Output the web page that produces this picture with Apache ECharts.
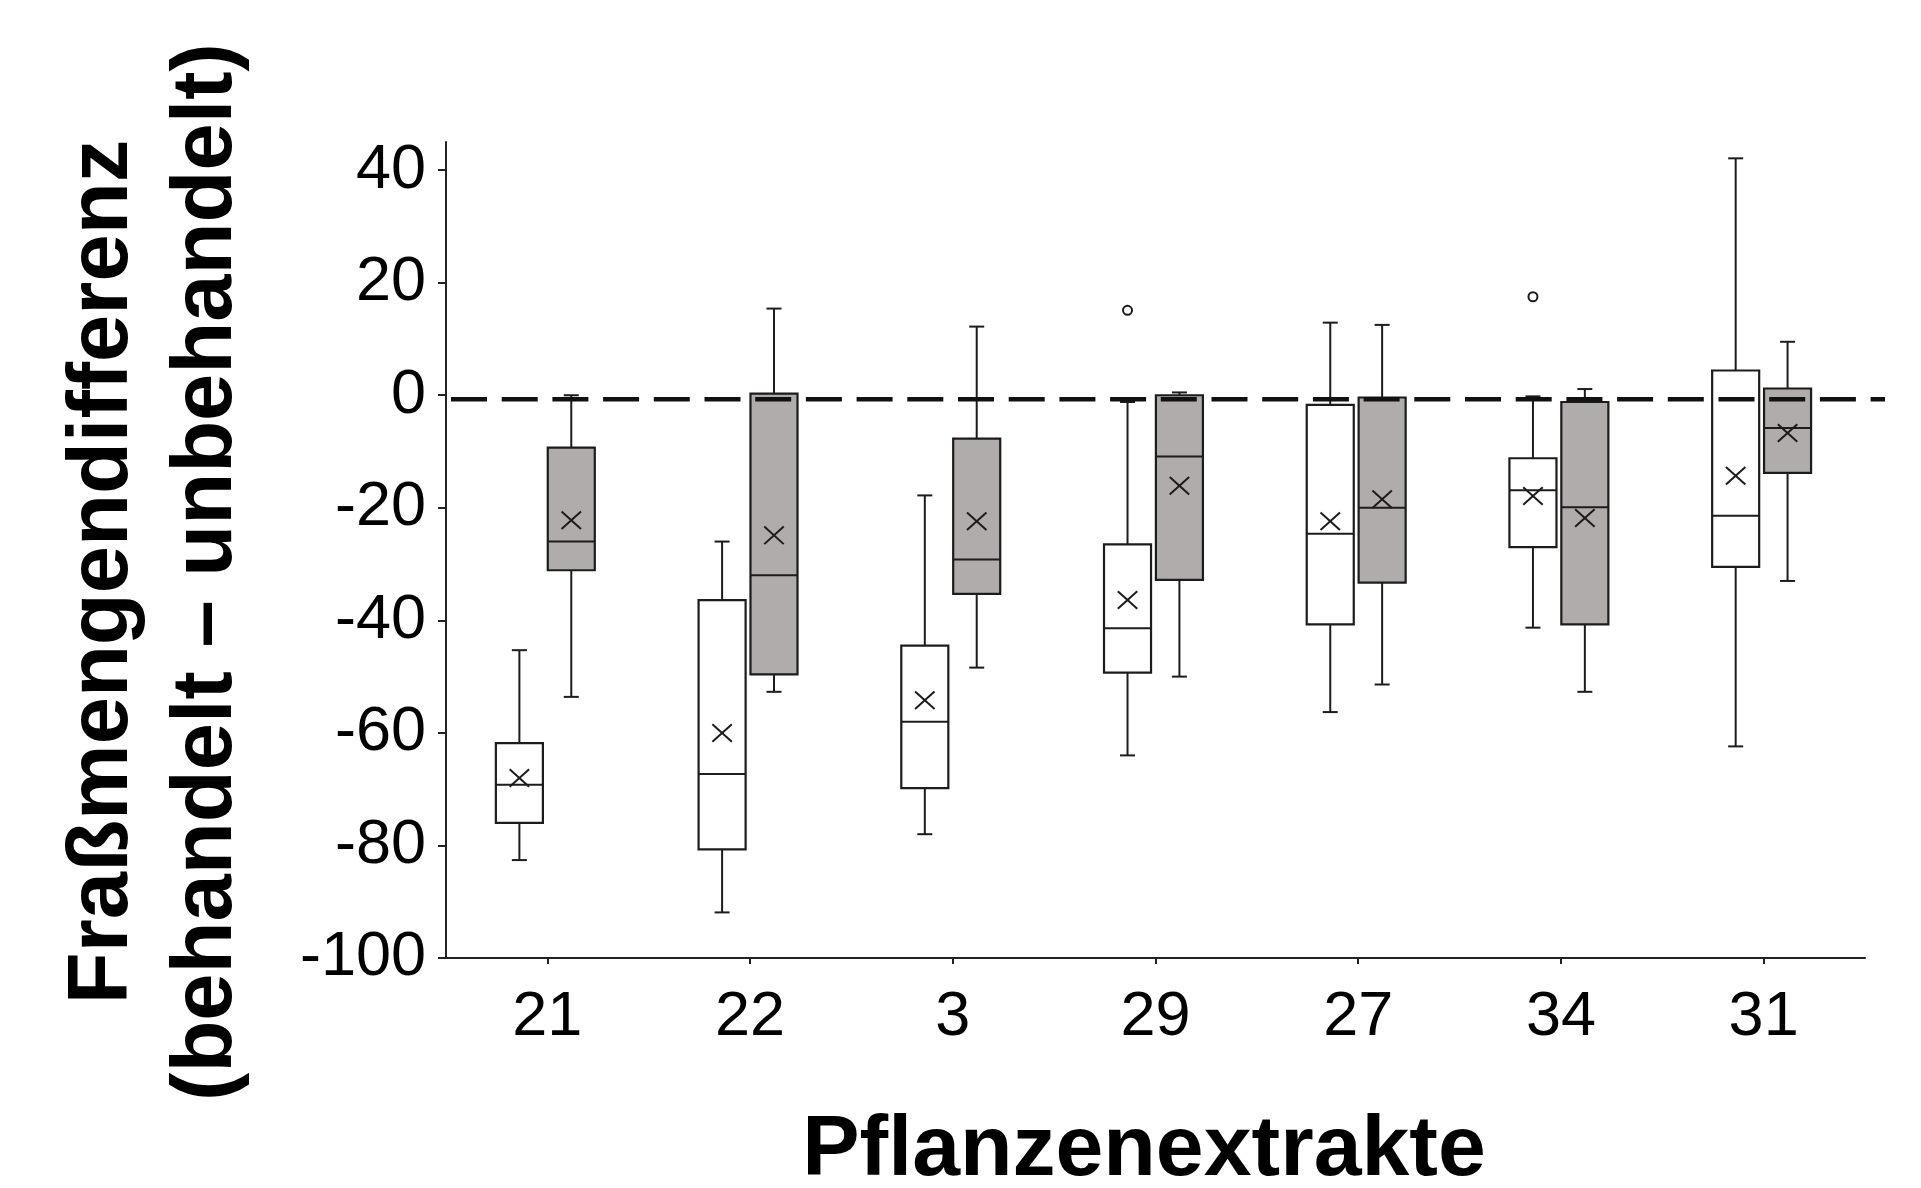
<!DOCTYPE html>
<html><head><meta charset="utf-8">
<script src="https://cdn.jsdelivr.net/npm/echarts@6/dist/echarts.min.js"></script>
<style>html,body{margin:0;padding:0;background:#fff}#chart{width:1921px;height:1188px}</style>
</head><body><div id="chart"></div>
<script>
// ---- data ----
const categories = ['21', '22', '3', '29', '27', '34', '31'];
const yTicks = [-100, -80, -60, -40, -20, 0, 20, 40];
const referenceValue = -0.7;

// open (white) boxes
const whiteMin    = [-82.6, -91.9, -78.0, -64.0, -56.3, -41.3, -62.4];
const whiteQ1     = [-76.0, -80.7, -69.8, -49.3, -40.7, -27.0, -30.5];
const whiteMedian = [-69.2, -67.3, -58.0, -41.4, -24.6, -16.9, -21.4];
const whiteQ3     = [-61.8, -36.4, -44.5, -26.5,  -1.7, -11.2,   4.4];
const whiteMax    = [-45.3, -26.0, -17.8,  -1.2,  12.9,  -0.2,  42.1];
const whiteMean   = [-68.0, -60.0, -54.2, -36.4, -22.4, -17.9, -14.3];
const whiteOutlierCats   = ['29', '34'];
const whiteOutlierValues = [15.1, 17.5];

// filled (grey) boxes
const greyMin    = [-53.6, -52.7, -48.4, -50.0, -51.4, -52.7, -33.0];
const greyQ1     = [-31.1, -49.6, -35.3, -32.8, -33.3, -40.7, -13.8];
const greyMedian = [-26.0, -32.0, -29.2, -10.9, -20.0, -19.9,  -5.8];
const greyQ3     = [ -9.3,   0.3,  -7.7,   0.0,  -0.4,  -1.2,   1.2];
const greyMax    = [  0.0,  15.4,  12.2,   0.5,  12.5,   1.1,   9.5];
const greyMean   = [-22.2, -24.9, -22.4, -16.1, -18.5, -21.8,  -6.7];

// ---- chart ----
const FONT = '"Liberation Sans", Arial, sans-serif';
const STROKE = '#1c1c1c';

function boxRenderer(offsetFrac, fill) {
  return function (params, api) {
    const idx = api.value(0);
    const band = api.size([1, 0])[0];
    const cx = api.coord([idx, 0])[0] + band * offsetFrac;
    const py = v => api.coord([idx, v])[1];
    const yMin = py(api.value(1)), yQ1 = py(api.value(2)), yMed = py(api.value(3)),
          yQ3 = py(api.value(4)), yMax = py(api.value(5)), yMean = py(api.value(6));
    const hw = band * 0.116, cw = band * 0.037, mk = band * 0.048;
    const ls = { stroke: STROKE, lineWidth: 2 };
    return {
      type: 'group',
      children: [
        { type: 'line', shape: { x1: cx, y1: yQ1, x2: cx, y2: yMin }, style: ls },
        { type: 'line', shape: { x1: cx, y1: yQ3, x2: cx, y2: yMax }, style: ls },
        { type: 'line', shape: { x1: cx - cw, y1: yMin, x2: cx + cw, y2: yMin }, style: ls },
        { type: 'line', shape: { x1: cx - cw, y1: yMax, x2: cx + cw, y2: yMax }, style: ls },
        { type: 'rect', shape: { x: cx - hw, y: yQ3, width: 2 * hw, height: yQ1 - yQ3 },
          style: { fill: fill, stroke: STROKE, lineWidth: 2.2 } },
        { type: 'line', shape: { x1: cx - hw, y1: yMed, x2: cx + hw, y2: yMed }, style: ls },
        { type: 'line', shape: { x1: cx - mk, y1: yMean - mk * 0.9, x2: cx + mk, y2: yMean + mk * 0.9 }, style: ls },
        { type: 'line', shape: { x1: cx - mk, y1: yMean + mk * 0.9, x2: cx + mk, y2: yMean - mk * 0.9 }, style: ls }
      ]
    };
  };
}

function outlierRenderer(offsetFrac) {
  return function (params, api) {
    const idx = api.value(0);
    const band = api.size([1, 0])[0];
    const p = api.coord([idx, api.value(1)]);
    return { type: 'circle', shape: { cx: p[0] + band * offsetFrac, cy: p[1], r: 4.5 },
             style: { fill: '#fff', stroke: STROKE, lineWidth: 2 } };
  };
}

const WHITE_OFF = -0.138, GREY_OFF = 0.118;

const option = {
  backgroundColor: '#ffffff',
  animation: false,
  grid: { left: 446, right: 56, top: 142, bottom: 230, containLabel: false },
  xAxis: {
    type: 'category',
    data: categories,
    axisLine: { show: true, onZero: false, lineStyle: { color: '#222', width: 2 } },
    axisTick: { show: true, alignWithLabel: true, length: 6, lineStyle: { color: '#222', width: 2 } },
    axisLabel: { color: '#000', fontSize: 63, fontFamily: FONT, margin: 28 },
    splitLine: { show: false }
  },
  yAxis: {
    type: 'value',
    min: -100, max: 45, interval: 20,
    axisLine: { show: true, onZero: false, lineStyle: { color: '#222', width: 2 } },
    axisTick: { show: true, length: 8, customValues: yTicks, lineStyle: { color: '#222', width: 2 } },
    axisLabel: { color: '#000', fontSize: 63, fontFamily: FONT, margin: 20, customValues: yTicks },
    splitLine: { show: false }
  },
  graphic: [
    { type: 'text', x: 156, y: 572, rotation: Math.PI / 2,
      style: { text: 'Fraßmengendifferenz\n(behandelt – unbehandelt)', fill: '#000',
               fontSize: 85, fontWeight: 'bold', fontFamily: FONT, lineHeight: 104,
               align: 'center', verticalAlign: 'middle', textAlign: 'center', textVerticalAlign: 'middle' } },
    { type: 'text', x: 1144, y: 1151,
      style: { text: 'Pflanzenextrakte', fill: '#000',
               fontSize: 86, fontWeight: 'bold', fontFamily: FONT,
               align: 'center', verticalAlign: 'middle', textAlign: 'center', textVerticalAlign: 'middle' } }
  ],
  series: [
    {
      type: 'custom', name: 'weiß', z: 2,
      data: categories.map((c, i) => [i, whiteMin[i], whiteQ1[i], whiteMedian[i], whiteQ3[i], whiteMax[i], whiteMean[i]]),
      encode: { x: 0, y: [1, 2, 3, 4, 5, 6] },
      renderItem: boxRenderer(WHITE_OFF, '#ffffff')
    },
    {
      type: 'custom', name: 'grau', z: 2,
      data: categories.map((c, i) => [i, greyMin[i], greyQ1[i], greyMedian[i], greyQ3[i], greyMax[i], greyMean[i]]),
      encode: { x: 0, y: [1, 2, 3, 4, 5, 6] },
      renderItem: boxRenderer(GREY_OFF, '#b0acab')
    },
    {
      type: 'custom', name: 'Ausreißer', z: 2,
      data: whiteOutlierCats.map((c, i) => [categories.indexOf(c), whiteOutlierValues[i]]),
      encode: { x: 0, y: 1 },
      renderItem: outlierRenderer(WHITE_OFF)
    },
    {
      type: 'custom', name: 'Referenz', z: 5,
      data: [[0, referenceValue]],
      encode: { x: 0, y: 1 },
      renderItem: function (params, api) {
        const cs = params.coordSys;
        const y = api.coord([0, api.value(1)])[1];
        return { type: 'line', shape: { x1: cs.x + 5, y1: y, x2: cs.x + cs.width + 20, y2: y },
                 style: { stroke: '#111', lineWidth: 4.5, lineDash: [36, 14.7] } };
      }
    }
  ]
};

const chart = echarts.init(document.getElementById('chart'), null, { renderer: 'canvas' });
chart.setOption(option);
</script>
</body></html>
